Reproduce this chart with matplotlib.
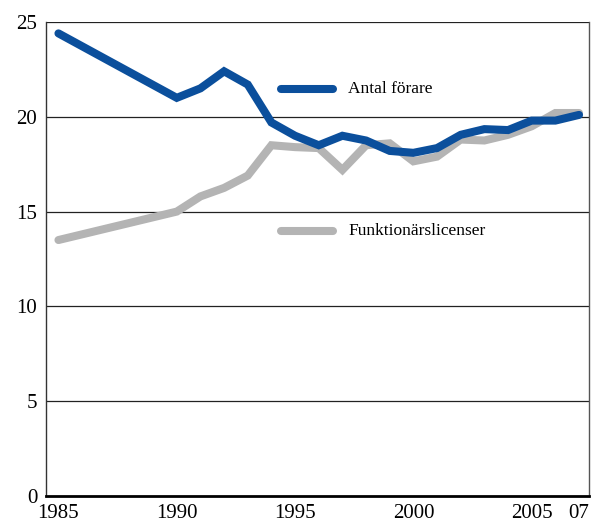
import matplotlib.pyplot as plt

# Antal förare (1986-1989 not reported, line drawn straight between 1985 and 1990)
years = [1985, 1990, 1991, 1992, 1993, 1994, 1995, 1996, 1997, 1998, 1999,
         2000, 2001, 2002, 2003, 2004, 2005, 2006, 2007]
forare = [24.4, 21.0, 21.5, 22.4, 21.7, 19.7, 19.0, 18.5, 19.0, 18.75, 18.2,
          18.1, 18.35, 19.05, 19.35, 19.3, 19.8, 19.8, 20.1]
licenser = [13.5, 15.0, 15.8, 16.25, 16.9, 18.5, 18.4, 18.35, 17.2, 18.5, 18.6,
            17.65, 17.9, 18.8, 18.75, 19.05, 19.5, 20.2, 20.2]

xticks = [1985, 1990, 1995, 2000, 2005, 2007]
xticklabels = ['1985', '1990', '1995', '2000', '2005', '07']
yticks = [0, 5, 10, 15, 20, 25]

blue = '#0b4f9c'
grey = '#b4b4b4'

plt.rcParams['font.family'] = ['Liberation Serif', 'DejaVu Serif']

fig = plt.figure(figsize=(6.05, 5.24), dpi=100)
ax = fig.add_axes([0.0755, 0.0535, 0.898, 0.9045])

ax.plot(years, licenser, color=grey, lw=5.8, solid_capstyle='round',
        solid_joinstyle='miter', zorder=3)
ax.plot(years, forare, color=blue, lw=5.8, solid_capstyle='round',
        solid_joinstyle='miter', zorder=4)

# inline legend
ax.plot([1994.4, 1996.6], [21.47, 21.47], color=blue, lw=5.8, solid_capstyle='round', zorder=4)
ax.text(1997.25, 21.47, 'Antal förare', fontsize=12.5, va='center', ha='left')
ax.plot([1994.4, 1996.6], [13.96, 13.96], color=grey, lw=5.8, solid_capstyle='round', zorder=4)
ax.text(1997.25, 13.96, 'Funktionärslicenser', fontsize=12.5, va='center', ha='left')

ax.set_xlim(1984.46, 2007.42)
ax.set_ylim(0, 25)
ax.set_xticks(xticks)
ax.set_xticklabels(xticklabels)
ax.set_yticks(yticks)
ax.tick_params(length=0, labelsize=15)
ax.tick_params(axis='y', pad=6)
ax.tick_params(axis='x', pad=6)

for v in yticks[1:]:
    ax.axhline(v, color='#222222', lw=0.9, zorder=1)

ax.spines['top'].set_visible(False)
ax.spines['left'].set_color('#333333')
ax.spines['left'].set_linewidth(1.0)
ax.spines['right'].set_color('#555555')
ax.spines['right'].set_linewidth(1.0)
ax.spines['bottom'].set_color('black')
ax.spines['bottom'].set_linewidth(2.0)

plt.savefig('out.png', dpi=100)
